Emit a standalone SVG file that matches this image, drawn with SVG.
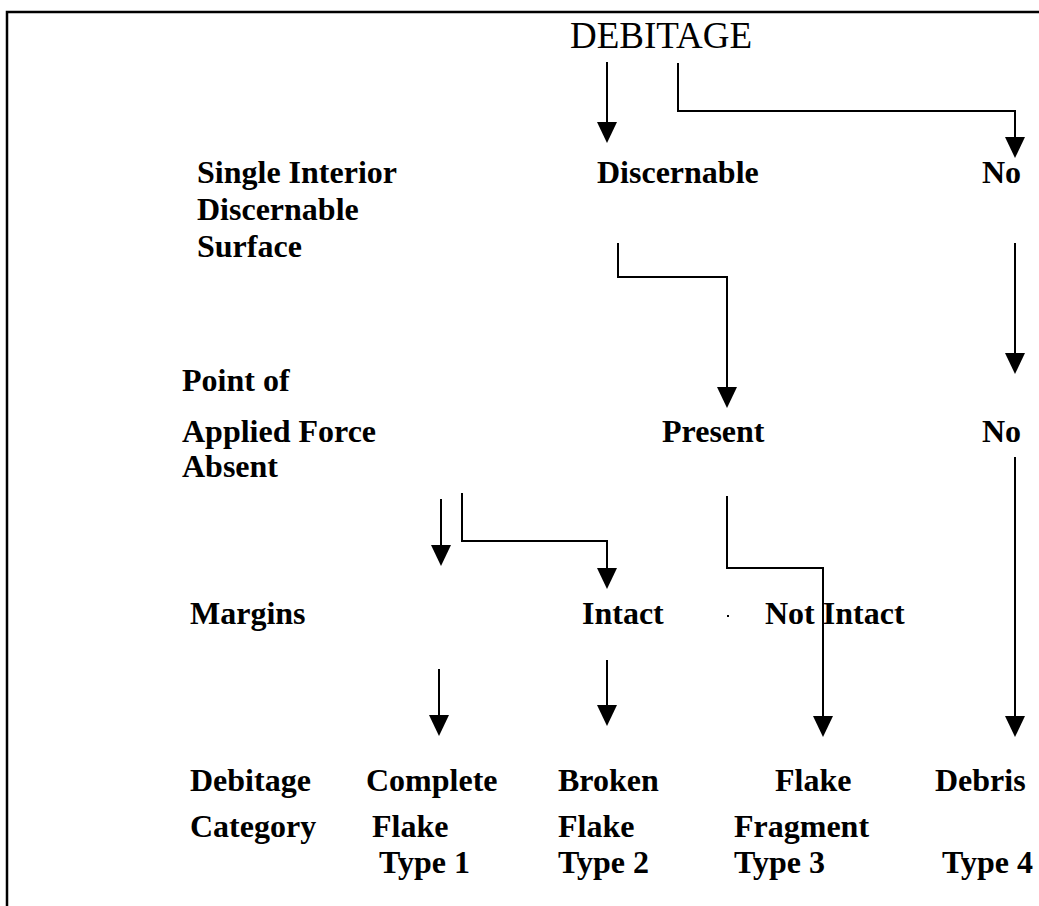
<svg xmlns="http://www.w3.org/2000/svg" width="1039" height="906" viewBox="0 0 1039 906">
<style>
.b{font-family:"Liberation Serif","Times New Roman",serif;font-weight:bold;font-size:32px;fill:#000}
.r{font-family:"Liberation Serif","Times New Roman",serif;font-size:37px;fill:#000}
.c{fill:none;stroke:#000;stroke-width:2}
</style>
<defs>
<marker id="ah" markerUnits="userSpaceOnUse" viewBox="0 0 21 20" markerWidth="21" markerHeight="20" refX="0" refY="10" orient="auto">
<polygon points="0,0 21,10 0,20" fill="#000"/>
</marker>
</defs>
<rect width="1039" height="906" fill="#fff"/>
<g id="frame"><path d="M1039,12 H7 V906" fill="none" stroke="#000" stroke-width="2.5"/></g>
<g id="n-debitage"><text class="r" x="570" y="48">DEBITAGE</text></g>
<g id="n-single"><text class="b" x="197" y="183">Single Interior</text><text class="b" x="197" y="220">Discernable</text><text class="b" x="197" y="257">Surface</text></g>
<g id="n-discernable"><text class="b" x="597" y="183">Discernable</text></g>
<g id="n-no1"><text class="b" x="982" y="183">No</text></g>
<g id="n-point"><text class="b" x="182" y="391">Point of</text><text class="b" x="182" y="442">Applied Force</text><text class="b" x="182" y="477">Absent</text></g>
<g id="n-present"><text class="b" x="662" y="442">Present</text></g>
<g id="n-no2"><text class="b" x="982" y="442">No</text></g>
<g id="n-margins"><text class="b" x="190" y="624">Margins</text></g>
<g id="n-intact"><text class="b" x="582" y="624">Intact</text></g>
<g id="n-notintact"><text class="b" x="765" y="624">Not Intact</text><rect x="727" y="615" width="2" height="2" fill="#000"/></g>
<g id="n-debcat"><text class="b" x="190" y="791">Debitage</text><text class="b" x="190" y="837">Category</text></g>
<g id="n-type1"><text class="b" x="366" y="791">Complete</text><text class="b" x="372" y="837">Flake</text><text class="b" x="379" y="873">Type 1</text></g>
<g id="n-type2"><text class="b" x="558" y="791">Broken</text><text class="b" x="558" y="837">Flake</text><text class="b" x="558" y="873">Type 2</text></g>
<g id="n-type3"><text class="b" x="775" y="791">Flake</text><text class="b" x="734" y="837">Fragment</text><text class="b" x="734" y="873">Type 3</text></g>
<g id="n-type4"><text class="b" x="935" y="791">Debris</text><text class="b" x="942" y="873">Type 4</text></g>
<g id="connectors">
<path class="c" d="M607,62 V122" marker-end="url(#ah)"/>
<path class="c" d="M678,63 V111 H1015 V137" marker-end="url(#ah)"/>
<path class="c" d="M618,243 V277 H727 V387" marker-end="url(#ah)"/>
<path class="c" d="M1015,243 V353" marker-end="url(#ah)"/>
<path class="c" d="M441,499 V545" marker-end="url(#ah)"/>
<path class="c" d="M462,493 V541 H607 V568" marker-end="url(#ah)"/>
<path class="c" d="M727,496 V568 H823 V716" marker-end="url(#ah)"/>
<path class="c" d="M1015,457 V716" marker-end="url(#ah)"/>
<path class="c" d="M439,669 V715" marker-end="url(#ah)"/>
<path class="c" d="M607,660 V705" marker-end="url(#ah)"/>
</g>
</svg>
